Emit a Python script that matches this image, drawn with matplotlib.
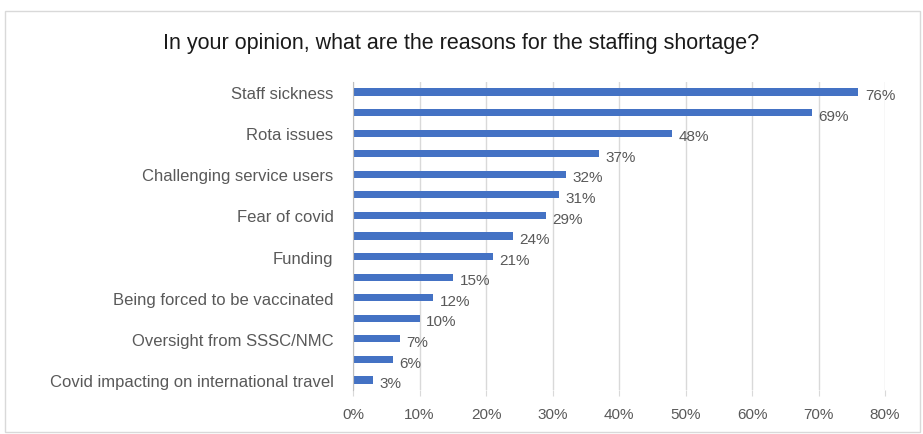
import matplotlib.pyplot as plt
from matplotlib.patches import Rectangle

# survey answers, top to bottom (only every other label fits on the axis)
reasons = ["Staff sickness", "", "Rota issues", "", "Challenging service users", "",
           "Fear of covid", "", "Funding", "", "Being forced to be vaccinated", "",
           "Oversight from SSSC/NMC", "", "Covid impacting on international travel"]
share = [76, 69, 48, 37, 32, 31, 29, 24, 21, 15, 12, 10, 7, 6, 3]
ticks = [0, 10, 20, 30, 40, 50, 60, 70, 80]

plt.rcParams['font.family'] = ['Liberation Sans Narrow', 'Liberation Sans', 'DejaVu Sans']
txt = '#595959'
blue = '#4472C4'
grid = '#D9D9D9'

fig = plt.figure(figsize=(9.23, 4.35), dpi=100)
fig.patches.append(Rectangle((5 / 923, 0.005), 915 / 923, 1 - 12 / 435 - 0.005,
                             transform=fig.transFigure, fill=False,
                             edgecolor='#D9D9D9', linewidth=1))
ax = fig.add_axes([353 / 923, 0.1005, 532 / 923, 0.7094])

y = list(range(len(share)))
ax.barh(y, share, height=0.35, color=blue, zorder=3)
for yi, v in zip(y, share):
    ax.text(v + 1.0, yi + 0.15, f"{v}%", va='center', ha='left', fontsize=11, color=txt)

ax.set_xlim(0, 80)
ax.set_ylim(len(share) - 0.5, -0.5)
ax.set_yticks(y)
ax.set_yticklabels(reasons, fontsize=12, color=txt)
ax.set_xticks(ticks)
ax.set_xticklabels([f"{t}%" for t in ticks], fontsize=11, color=txt)
ax.tick_params(axis='y', length=0, pad=14)
ax.tick_params(axis='x', length=4, color=grid, pad=8)
ax.grid(axis='x', color=grid, linewidth=1, zorder=0)
for s in ['top', 'right', 'bottom']:
    ax.spines[s].set_visible(False)
ax.spines['left'].set_color('#BFBFBF')
ax.spines['left'].set_zorder(4)

fig.text(0.5, 0.9, "In your opinion, what are the reasons for the staffing shortage?",
         ha='center', va='center', fontsize=15.5, color='#1a1a1a')

fig.savefig('out.png', dpi=100)
